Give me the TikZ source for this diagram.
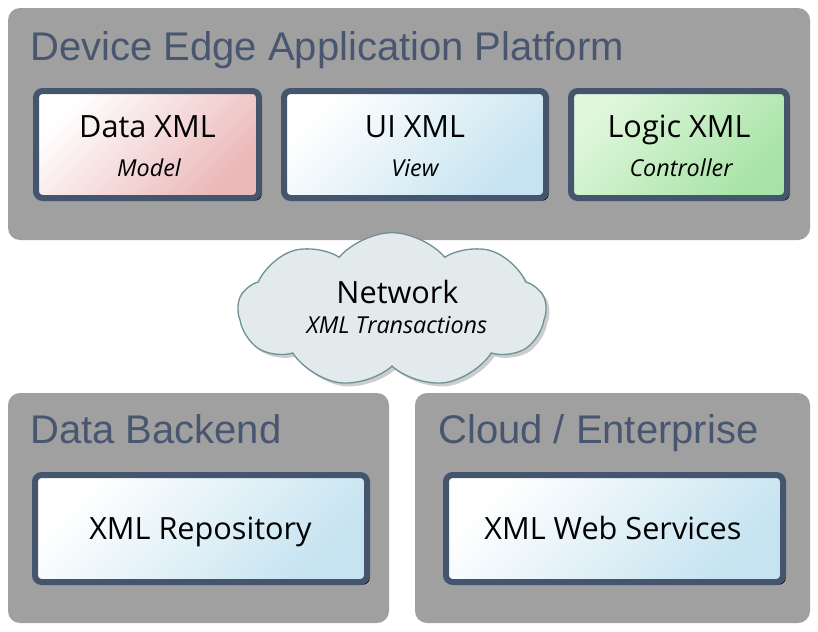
\documentclass[tikz,border=0pt]{standalone}
\usepackage{fontspec}
\setmainfont{Open Sans}
\newfontfamily\titlefont{Liberation Sans}
\usetikzlibrary{shapes.symbols,shadows}
\definecolor{panelgray}{RGB}{160,160,160}
\definecolor{titleblue}{RGB}{72,86,112}
\definecolor{boxline}{RGB}{70,85,110}
\definecolor{pinkend}{RGB}{234,184,184}
\definecolor{blueend}{RGB}{197,227,240}
\definecolor{greenstart}{RGB}{224,247,220}
\definecolor{greenend}{RGB}{167,227,166}
\definecolor{cloudfill}{RGB}{227,234,235}
\definecolor{cloudline}{RGB}{110,147,151}
\definecolor{cloudshadow}{RGB}{205,205,205}
\tikzset{
  panel/.style={rectangle, rounded corners=9pt, fill=panelgray, inner sep=0pt},
  ptitle/.style={anchor=base west, inner sep=0pt, text=titleblue, font=\titlefont\fontsize{30}{34}\selectfont},
  xbox/.style={rectangle, rounded corners=5pt, draw=boxline, line width=4.5pt, inner sep=0pt,
    minimum height=80.25pt,
    drop shadow={shadow xshift=2pt, shadow yshift=-2pt, fill=black, opacity=1}},
  bigtxt/.style={anchor=base, inner sep=0pt, font=\fontsize{23}{26}\selectfont},
  smalltxt/.style={anchor=base, inner sep=0pt, font=\itshape\fontsize{17.5}{20}\selectfont},
}
\begin{document}
\begin{tikzpicture}[x=0.75pt, y=-0.75pt]
\useasboundingbox (0,0) rectangle (818,632);
% panels
\node[panel, minimum width=601.5pt, minimum height=174pt] (top) at (409,124) {};
\node[panel, minimum width=285.75pt, minimum height=172.5pt] (bl) at (198.5,508) {};
\node[panel, minimum width=296.25pt, minimum height=172.5pt] (br) at (612.5,508) {};
\node[ptitle] (ttop) at (30,60) {Device Edge Application Platform};
\node[ptitle] (tbl) at (30,443) {Data Backend};
\node[ptitle] (tbr) at (438,443) {Cloud / Enterprise};
% top boxes
\node[xbox, minimum width=167.25pt, top color=white, bottom color=pinkend, shading angle=45] (data) at (147.5,144.5) {};
\node[xbox, minimum width=196.5pt, top color=white, bottom color=blueend, shading angle=45] (ui) at (415,144.5) {};
\node[xbox, minimum width=162pt, top color=greenstart, bottom color=greenend, shading angle=45] (logic) at (679,144.5) {};
\node[bigtxt] (dataT) at (147.5,137) {Data XML};
\node[smalltxt] (dataS) at (149,176) {Model};
\node[bigtxt] (uiT) at (415,137) {UI XML};
\node[smalltxt] (uiS) at (415,176) {View};
\node[bigtxt] (logicT) at (679,137) {Logic XML};
\node[smalltxt] (logicS) at (681,176) {Controller};
% cloud
\node[cloud, cloud puffs=9, cloud puff arc=100, draw=cloudline, line width=1pt, fill=cloudfill,
  minimum width=231pt, minimum height=116pt, inner sep=0pt,
  drop shadow={shadow xshift=2.5pt, shadow yshift=-2.5pt, fill=cloudshadow, opacity=1}] (net) at (392,310) {};
\node[bigtxt] (netT) at (397.5,303) {Network};
\node[smalltxt] (netS) at (397,333) {XML Transactions};
% bottom boxes
\node[xbox, minimum width=249pt, top color=white, bottom color=blueend, shading angle=45] (repo) at (201,528.5) {};
\node[xbox, minimum width=252.75pt, top color=white, bottom color=blueend, shading angle=45] (ws) at (614.5,528.5) {};
\node[bigtxt] (repoT) at (200.5,539) {XML Repository};
\node[bigtxt] (wsT) at (613,539) {XML Web Services};
\end{tikzpicture}
\end{document}
